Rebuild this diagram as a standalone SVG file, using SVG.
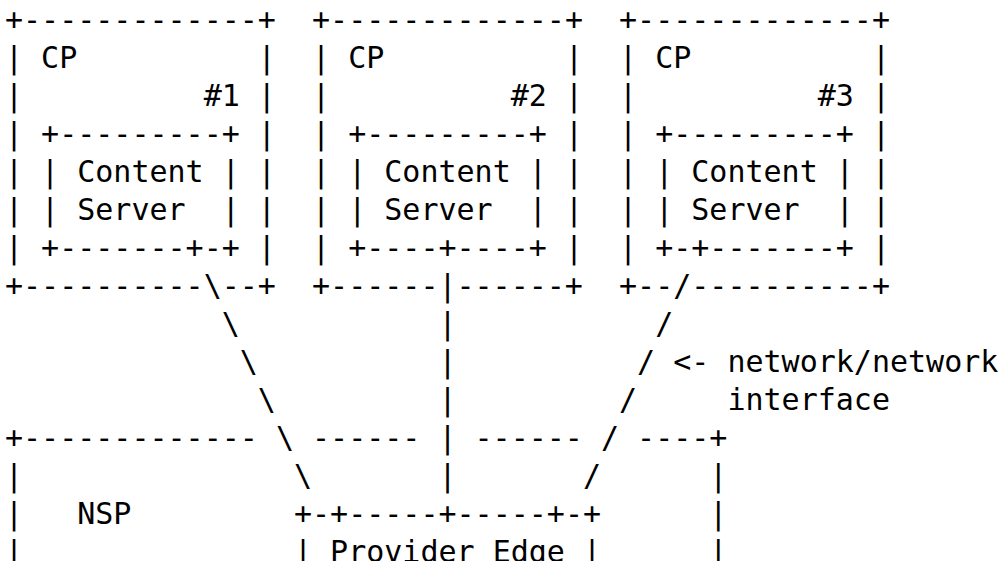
<svg xmlns="http://www.w3.org/2000/svg" width="1002" height="561" viewBox="0 0 1002 561">
<style>
text{font-family:"DejaVu Sans Mono","Liberation Mono",monospace;font-size:30px;fill:#000;white-space:pre}
</style>
<rect width="1002" height="561" fill="#fff"/>
<g id="cp1" xml:space="preserve">
<text x="5" y="30">+-------------+</text>
<text x="5" y="68">| CP          |</text>
<text x="5" y="106">|          #1 |</text>
<text x="5" y="144">| +---------+ |</text>
<text x="5" y="182">| | Content | |</text>
<text x="5" y="220">| | Server  | |</text>
<text x="5" y="258">| +-------+-+ |</text>
<text x="5" y="296">+----------</text>
<text x="221.72" y="296">--+</text>
</g>
<g id="cp2" xml:space="preserve">
<text x="312.02" y="30">+-------------+</text>
<text x="312.02" y="68">| CP          |</text>
<text x="312.02" y="106">|          #2 |</text>
<text x="312.02" y="144">| +---------+ |</text>
<text x="312.02" y="182">| | Content | |</text>
<text x="312.02" y="220">| | Server  | |</text>
<text x="312.02" y="258">| +----+----+ |</text>
<text x="312.02" y="296">+------</text>
<text x="456.5" y="296">------+</text>
</g>
<g id="cp3" xml:space="preserve">
<text x="619.04" y="30">+-------------+</text>
<text x="619.04" y="68">| CP          |</text>
<text x="619.04" y="106">|          #3 |</text>
<text x="619.04" y="144">| +---------+ |</text>
<text x="619.04" y="182">| | Content | |</text>
<text x="619.04" y="220">| | Server  | |</text>
<text x="619.04" y="258">| +-+-------+ |</text>
<text x="619.04" y="296">+--</text>
<text x="691.28" y="296">----------+</text>
</g>
<g id="nsp" xml:space="preserve">
<text x="5" y="448">+-------------</text>
<text x="312.02" y="448">------</text>
<text x="474.56" y="448">------</text>
<text x="637.1" y="448">----+</text>
<text x="5" y="486">|</text>
<text x="709.34" y="486">|</text>
<text x="5" y="524">|   NSP</text>
<text x="709.34" y="524">|</text>
<text x="5" y="562">|</text>
<text x="709.34" y="562">|</text>
</g>
<g id="pe" xml:space="preserve">
<text x="293.96" y="524">+-+-----+-----+-+</text>
<text x="293.96" y="562">| Provider Edge |</text>
</g>
<g id="connectors">
<text x="203.66" y="296">\</text>
<text x="221.72" y="334">\</text>
<text x="239.78" y="372">\</text>
<text x="257.84" y="410">\</text>
<text x="275.9" y="448">\</text>
<text x="293.96" y="486">\</text>
<text x="438.44" y="296">|</text>
<text x="438.44" y="334">|</text>
<text x="438.44" y="372">|</text>
<text x="438.44" y="410">|</text>
<text x="438.44" y="448">|</text>
<text x="438.44" y="486">|</text>
<text x="673.22" y="296">/</text>
<text x="655.16" y="334">/</text>
<text x="637.1" y="372">/</text>
<text x="619.04" y="410">/</text>
<text x="600.98" y="448">/</text>
<text x="582.92" y="486">/</text>
</g>
<g id="label">
<text x="673.22" y="372">&lt;- network/network</text>
<text x="727.4" y="410">interface</text>
</g>
</svg>
